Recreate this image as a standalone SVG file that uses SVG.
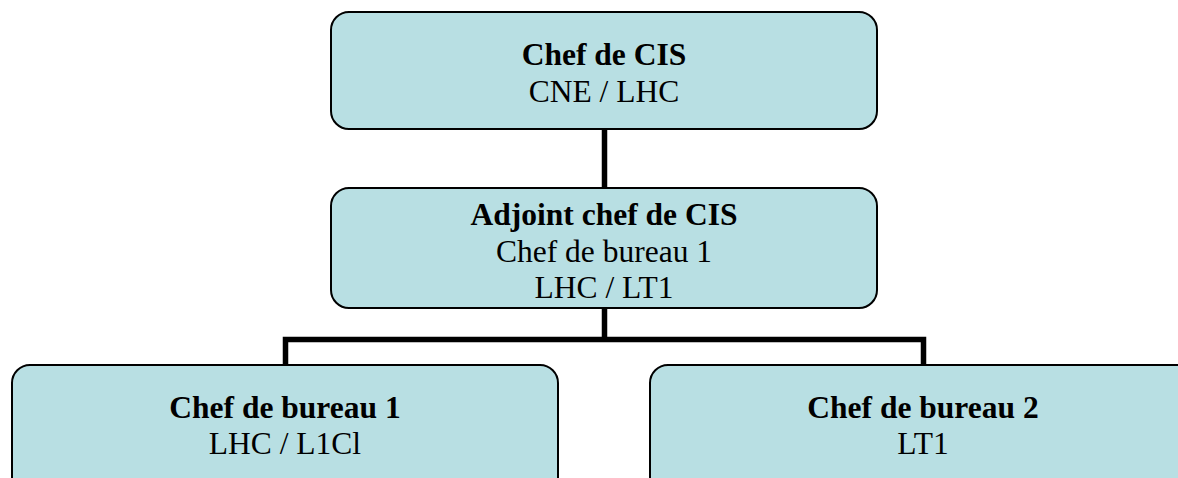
<svg xmlns="http://www.w3.org/2000/svg" width="1178" height="478" viewBox="0 0 1178 478">
<style>
.box{fill:#B8DFE3;stroke:#000;stroke-width:2}
.t{font-family:"Liberation Serif","Times New Roman",serif;font-size:31.5px;fill:#000;text-anchor:middle}
.b{font-weight:bold}
.conn{fill:none;stroke:#000;stroke-width:5.5;stroke-linecap:butt;stroke-linejoin:miter}
</style>
<rect width="1178" height="478" fill="#fff"/>
<g id="connectors">
<line class="conn" x1="604.5" y1="129" x2="604.5" y2="189"/>
<polyline class="conn" points="285.5,366 285.5,339.5 923.5,339.5 923.5,366"/>
<line class="conn" x1="604.5" y1="307" x2="604.5" y2="339.5"/>
</g>
<g id="node-chef-cis">
<rect class="box" x="331" y="12" width="546" height="117" rx="18"/>
<text class="t b" x="604" y="65">Chef de CIS</text>
<text class="t" x="604" y="102">CNE / LHC</text>
</g>
<g id="node-adjoint">
<rect class="box" x="331" y="188" width="546" height="120" rx="18"/>
<text class="t b" x="604" y="225">Adjoint chef de CIS</text>
<text class="t" x="604" y="261.5">Chef de bureau 1</text>
<text class="t" x="604" y="298">LHC / LT1</text>
</g>
<g id="node-bureau1">
<rect class="box" x="12" y="365" width="546" height="130" rx="18"/>
<text class="t b" x="285" y="418">Chef de bureau 1</text>
<text class="t" x="285" y="454">LHC / L1Cl</text>
</g>
<g id="node-bureau2">
<rect class="box" x="650" y="365" width="546" height="130" rx="18"/>
<text class="t b" x="923" y="418">Chef de bureau 2</text>
<text class="t" x="923" y="454">LT1</text>
</g>
</svg>
